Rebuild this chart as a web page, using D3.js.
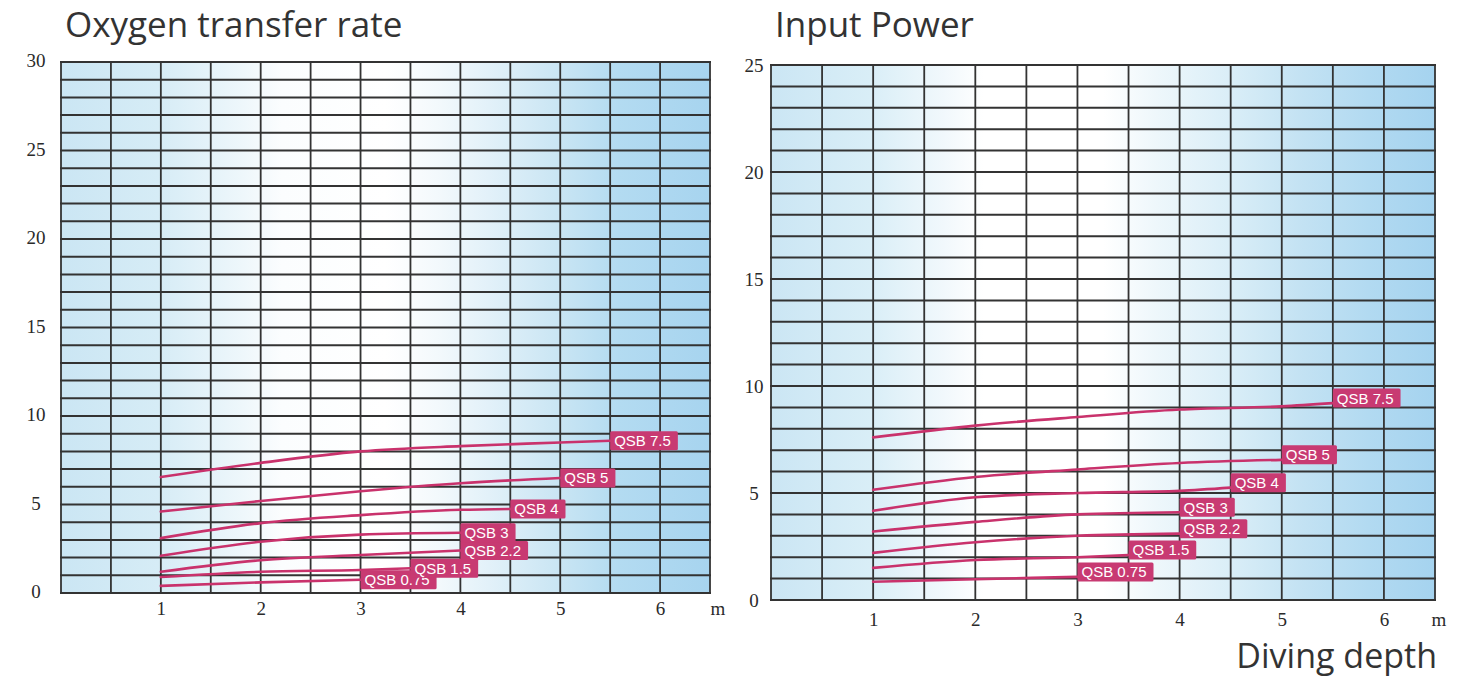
<!DOCTYPE html>
<html>
<head>
<meta charset="utf-8">
<script src="https://cdn.jsdelivr.net/npm/d3@7"></script>
<style>
  html, body { margin: 0; padding: 0; background: #ffffff; }
  svg { display: block; }
</style>
</head>
<body>
<svg id="chart" width="1459" height="679"></svg>
<script>
// Aerator models, shared by both panels
const models = ["QSB 0.75", "QSB 1.5", "QSB 2.2", "QSB 3", "QSB 4", "QSB 5", "QSB 7.5"];

// Diving depth (m) sampled for each model
const depthByModel = [
  [1, 2, 3],
  [1, 2, 3, 3.5],
  [1, 2, 3, 4],
  [1, 2, 3, 4],
  [1, 2, 3, 4, 4.5],
  [1, 2, 3, 4, 5],
  [1, 2, 3, 4, 5, 5.5]
];

// Oxygen transfer rate for each model
const oxygenRate = [
  [0.4, 0.6, 0.75],
  [0.9, 1.2, 1.3, 1.4],
  [1.2, 1.85, 2.15, 2.4],
  [2.1, 2.9, 3.3, 3.4],
  [3.1, 3.95, 4.4, 4.7, 4.75],
  [4.6, 5.2, 5.75, 6.2, 6.5],
  [6.55, 7.35, 8.0, 8.3, 8.5, 8.6]
];

// Input power for each model
const inputPower = [
  [0.85, 0.97, 1.08],
  [1.5, 1.87, 2.0, 2.1],
  [2.2, 2.7, 3.0, 3.1],
  [3.2, 3.65, 4.0, 4.1],
  [4.17, 4.8, 5.0, 5.1, 5.25],
  [5.15, 5.75, 6.1, 6.4, 6.55],
  [7.6, 8.15, 8.55, 8.9, 9.05, 9.2]
];

// Tick labels
const depthTicks = [1, 2, 3, 4, 5, 6];
const oxygenTicks = [0, 5, 10, 15, 20, 25, 30];
const powerTicks = [0, 5, 10, 15, 20, 25];

const svg = d3.select("#chart");
const defs = svg.append("defs");
const curveColor = "#c9326c";
const serif = "'Liberation Serif', 'DejaVu Serif', serif";
const sans = "'Open Sans', 'Noto Sans', Arial, sans-serif";

function panel(cfg) {
  const x = d3.scaleLinear().domain([0, 6.5]).range([cfg.left, cfg.right]);
  const y = d3.scaleLinear().domain([0, cfg.yMax]).range([cfg.bottom, cfg.top]);

  // paper tint: blue at the edges, fading to white toward the middle
  const grad = defs.append("linearGradient")
    .attr("id", cfg.id + "-bg")
    .attr("x1", "0%").attr("x2", "100%").attr("y1", "0%").attr("y2", "0%");
  cfg.stops.forEach(s => grad.append("stop").attr("offset", s[0]).attr("stop-color", s[1]));

  const g = svg.append("g");
  g.append("rect")
    .attr("x", cfg.left).attr("y", cfg.top)
    .attr("width", cfg.right - cfg.left).attr("height", cfg.bottom - cfg.top)
    .attr("fill", `url(#${cfg.id}-bg)`);

  // grid: one row per unit, one column per half metre
  const rows = d3.range(0, cfg.yMax + 1, 1);
  const cols = d3.range(0, 6.5 + 0.01, 0.5);
  g.append("g").selectAll("line").data(rows).join("line")
    .attr("x1", cfg.left - 1).attr("x2", cfg.right + 1)
    .attr("y1", d => y(d)).attr("y2", d => y(d))
    .attr("stroke", "#333333").attr("stroke-width", 2);
  g.append("g").selectAll("line").data(cols).join("line")
    .attr("x1", d => x(d)).attr("x2", d => x(d))
    .attr("y1", cfg.top).attr("y2", cfg.bottom)
    .attr("stroke", "#333333").attr("stroke-width", 1.8);

  // axes (labels only; the grid draws the lines)
  const yAxis = g.append("g")
    .attr("transform", `translate(${cfg.yLabelX},${cfg.yLabelShift})`)
    .call(d3.axisLeft(y).tickValues(cfg.yTicks).tickFormat(d3.format("d")).tickSize(0).tickPadding(0));
  yAxis.select(".domain").remove();
  yAxis.selectAll("text")
    .attr("text-anchor", "middle").attr("dy", "0.35em")
    .attr("font-family", serif)
    .attr("font-size", 19).attr("fill", "#2a2a2a");

  const xAxis = g.append("g")
    .attr("transform", `translate(0,${cfg.xLabelY})`)
    .call(d3.axisBottom(x).tickValues(depthTicks).tickFormat(d3.format("d")).tickSize(0).tickPadding(0));
  xAxis.select(".domain").remove();
  xAxis.selectAll("text")
    .attr("dy", "0.35em")
    .attr("font-family", serif)
    .attr("font-size", 19).attr("fill", "#2a2a2a");

  g.append("text")
    .attr("x", cfg.unitX).attr("y", cfg.xLabelY).attr("dy", "0.35em")
    .attr("text-anchor", "middle")
    .attr("font-family", serif)
    .attr("font-size", 19).attr("fill", "#2a2a2a")
    .text("m");

  // title
  g.append("text")
    .attr("x", cfg.left + 4).attr("y", 37)
    .attr("font-family", sans)
    .attr("font-size", 35).attr("fill", "#333333")
    .text(cfg.title);

  // performance curves
  const line = d3.line()
    .x(d => x(d[0])).y(d => y(d[1]))
    .curve(d3.curveMonotoneX);

  models.forEach((name, i) => {
    const pts = depthByModel[i].map((dx, k) => [dx, cfg.values[i][k]]);
    g.append("path")
      .attr("d", line(pts))
      .attr("fill", "none")
      .attr("stroke", curveColor)
      .attr("stroke-width", 2.6)
      .attr("stroke-linecap", "round");
  });

  // model tags at the end of each curve
  models.forEach((name, i) => {
    const last = depthByModel[i].length - 1;
    const ex = x(depthByModel[i][last]);
    const ey = y(cfg.values[i][last]) + cfg.tagShift;
    const tag = g.append("g").attr("transform", `translate(${ex},${ey})`);
    const t = tag.append("text")
      .attr("x", 4).attr("y", 0).attr("dy", "0.36em")
      .attr("font-family", "'Liberation Sans', Arial, sans-serif")
      .attr("font-size", 15).attr("fill", "#ffffff")
      .text(name);
    const w = t.node().getComputedTextLength();
    tag.insert("rect", "text")
      .attr("x", 0).attr("y", -9.5)
      .attr("width", w + 11).attr("height", 19)
      .attr("rx", 1.5)
      .attr("fill", "#c83a72");
  });
}

panel({
  id: "oxy",
  title: "Oxygen transfer rate",
  left: 61, right: 710, top: 62, bottom: 593,
  yMax: 30, yTicks: oxygenTicks,
  values: oxygenRate,
  yLabelX: 36, yLabelShift: -2, xLabelY: 608, unitX: 718,
  tagShift: 0,
  stops: [
    [0.00, "#cbe6f4"], [0.15, "#d6ecf6"], [0.28, "#eef7fb"], [0.34, "#fbfdfe"],
    [0.50, "#ffffff"], [0.58, "#f3f9fc"], [0.66, "#e2f1f9"], [0.76, "#cbe6f4"],
    [0.86, "#b3dbf1"], [1.00, "#a7d4ef"]
  ]
});

panel({
  id: "pow",
  title: "Input Power",
  left: 771, right: 1435, top: 65, bottom: 600,
  yMax: 25, yTicks: powerTicks,
  values: inputPower,
  yLabelX: 754, yLabelShift: 0, xLabelY: 619, unitX: 1439,
  tagShift: -5,
  stops: [
    [0.00, "#cbe6f4"], [0.15, "#d9eef7"], [0.26, "#f1f8fc"], [0.32, "#ffffff"],
    [0.50, "#ffffff"], [0.58, "#eef7fb"], [0.70, "#d8edf7"], [0.80, "#c3e2f3"],
    [0.90, "#b2daf1"], [1.00, "#a5d3ef"]
  ]
});

// shared x-axis caption
svg.append("text")
  .attr("x", 1437).attr("y", 668)
  .attr("text-anchor", "end")
  .attr("font-family", sans)
  .attr("font-size", 34).attr("fill", "#333333")
  .text("Diving depth");
</script>
</body>
</html>
